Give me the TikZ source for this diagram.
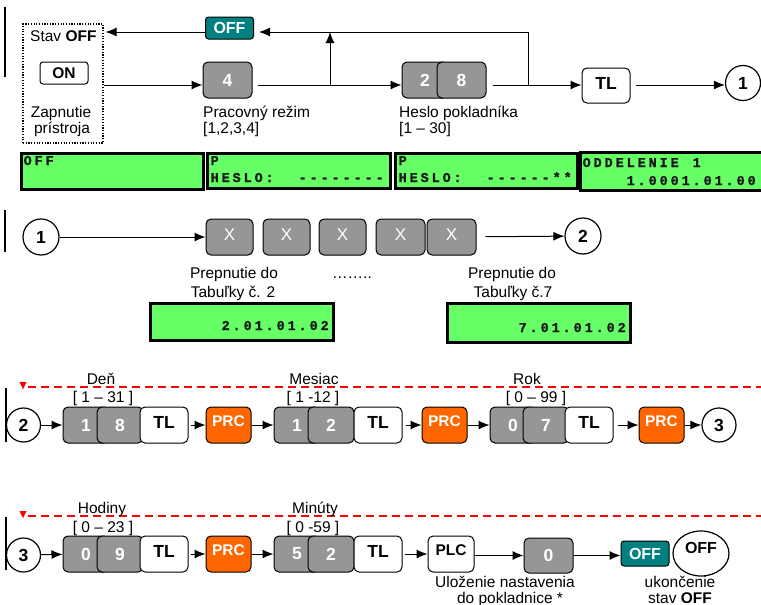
\documentclass[tikz,border=0pt]{standalone}
\usepackage{fontspec}
\setmainfont{Liberation Sans}
\newfontfamily\lcdfamily{Liberation Mono}[BoldFeatures={FakeBold=1.2}]
\usetikzlibrary{arrows.meta,shapes.geometric}
\definecolor{keygray}{HTML}{969696}
\definecolor{offteal}{HTML}{008080}
\definecolor{prcorange}{HTML}{FF6600}
\definecolor{lcdgreen}{HTML}{66FF66}
\definecolor{lcdtext}{HTML}{1A1A1A}
\newcommand\lcdrow[1]{\lcdloop#1\relax}
\def\lcdloop#1{\ifx\relax#1\else\makebox[11pt][c]{#1}\expandafter\lcdloop\fi}
\begin{document}
\begin{tikzpicture}[x=1pt,y=-1pt,
  key/.style={draw=black, line width=1pt, rounded corners=5pt, minimum width=46pt, minimum height=36pt, inner sep=0pt},
  digit/.style={key, fill=keygray, text=white, font=\fontsize{17.5}{17}\selectfont\bfseries},
  wkey/.style={key, fill=white, minimum width=48pt, text depth=5pt, font=\fontsize{17.5}{17}\selectfont\bfseries},
  prc/.style={key, fill=prcorange, minimum width=45pt, text=white, text depth=7pt, font=\fontsize{15.5}{16}\selectfont\bfseries},
  offkey/.style={key, fill=offteal, text=white, rounded corners=3pt, minimum width=48pt, minimum height=24pt, font=\fontsize{16}{16}\selectfont\bfseries},
  num/.style={circle, draw, fill=white, line width=1.2pt, minimum size=35pt, inner sep=0pt, font=\fontsize{17.5}{17}\selectfont\bfseries},
  arr/.style={-{Latex[length=11pt,width=9pt]}, line width=1pt},
  lbl/.style={inner sep=0pt, font=\fontsize{15.5}{16}\selectfont},
  lcd/.style={draw=black, line width=3pt, fill=lcdgreen, inner sep=0pt},
  lcdt/.style={inner sep=0pt, text=lcdtext, font=\lcdfamily\bfseries\fontsize{13.5}{13}\selectfont},
  bar/.style={line width=2pt},
  redline/.style={red, line width=1.1pt, dash pattern=on 8pt off 5pt},
  xkey/.style={digit, minimum width=47pt, text depth=5pt, font=\fontsize{17}{17}\selectfont},
]
\fill[white] (0,0) rectangle (761,605);
\useasboundingbox (0,0) rectangle (761,605);

% ---------- section 1 ----------
\draw[bar] (5,7) -- (5,77);
\node[draw, line width=1.2pt, dash pattern=on 1.2pt off 1.5pt, minimum width=80pt, minimum height=119pt, inner sep=0pt] (onbox) at (63,83.5) {};
\node[lbl, anchor=base west] (stav) at (30,41) {Stav \textbf{OFF}};
\node[key, fill=white, minimum width=48pt, minimum height=22pt, rounded corners=3pt, font=\fontsize{15.5}{16}\selectfont\bfseries] (on) at (64,73) {ON};
\node[lbl, anchor=base] (zap1) at (61,117) {Zapnutie};
\node[lbl, anchor=base] (zap2) at (62,133) {prístroja};

\node[offkey, minimum height=22pt] (offtop) at (229.5,28) {OFF};
\node[digit, minimum width=49pt] (k4) at (227.5,80) {4};
\node[lbl, anchor=base west] (prac1) at (203,117) {Pracovný režim};
\node[lbl, anchor=base west] (prac2) at (203,133) {[1,2,3,4]};
\node[digit, minimum width=46pt] (k2) at (425,80) {2};
\node[digit, minimum width=49pt] (k8) at (461.5,80) {8};
\node[lbl, anchor=base west] (hes1) at (399,117) {Heslo pokladníka};
\node[lbl, anchor=base west] (hes2) at (399,133) {[1 – 30]};
\node[wkey, minimum height=35pt] (tl0) at (606,85.5) {TL};
\node[num] (c1) at (743,83) {1};

\coordinate (j1) at (330,85);
\coordinate (j2) at (528,85);
\coordinate (t1) at (330,32);
\coordinate (t2) at (528,32);
\draw[arr] (onbox.east |- j1) -- (k4.west |- j1);
\draw[arr, shorten <=5pt] (k4.east |- j1) -- (k2.west |- j1);
\draw[arr] (j1) -- (t1);
\draw[arr, shorten <=6pt] (k8.east |- j2) -- (tl0.west |- j2);
\draw[arr, shorten >=5pt] (j2) -- (t2) -- (offtop.east |- t2);
\draw[arr, shorten >=2pt] (offtop.west |- t2) -- (onbox.east |- t2);
\draw[arr, shorten <=5pt] (tl0.east |- j2) -- (c1.west |- j2);

% LCD row
\node[lcd, minimum width=182pt, minimum height=36pt] (lcd1) at (112,171) {};
\node[lcd, minimum width=183pt, minimum height=35pt] (lcd2) at (298.5,170.5) {};
\node[lcd, minimum width=182pt, minimum height=35pt] (lcd3) at (486,170.5) {};
\node[lcd, minimum width=182pt, minimum height=38pt] (lcd4) at (671,171.5) {};
\node[lcdt, anchor=base west] (l1a) at (22,165) {\lcdrow{OFF}};
\node[lcdt, anchor=base west] (l2a) at (209,165) {\lcdrow{P}};
\node[lcdt, anchor=base west] (l2b) at (209,182) {\lcdrow{HESLO:~~--------}};
\node[lcdt, anchor=base west] (l3a) at (397,165) {\lcdrow{P}};
\node[lcdt, anchor=base west] (l3b) at (397,182) {\lcdrow{HESLO:~~------**}};
\node[lcdt, anchor=base west] (l4a) at (581,167) {\lcdrow{ODDELENIE~1}};
\node[lcdt, anchor=base west] (l4b) at (581,185) {\lcdrow{~~~~1.0001.01.00}};

% ---------- section 2 ----------
\draw[bar] (5,210) -- (5,252);
\node[num, minimum size=36pt] (c1b) at (41,237) {1};
\node[xkey] (x1) at (229.5,237) {X};
\node[xkey] (x2) at (286.5,237) {X};
\node[xkey] (x3) at (342.5,237) {X};
\node[xkey, minimum width=49pt] (x4) at (400.5,237) {X};
\node[xkey, minimum width=49pt] (x5) at (451.5,237) {X};
\node[num, minimum size=36pt] (c2b) at (583,236) {2};
\draw[arr] (c1b) -- (x1);
\draw[arr, shorten <=9pt] (x5) -- (c2b);
\node[lbl, anchor=base] (pr1) at (234,278.5) {Prepnutie do};
\node[lbl, anchor=base] (pr2) at (233,297.5) {Tabuľky č. 2};
\node[lbl, anchor=base] (dots) at (352,278) {……..};
\node[lbl, anchor=base] (pr3) at (512,278.5) {Prepnutie do};
\node[lbl, anchor=base] (pr4) at (513,297.5) {Tabuľky č.7};
\node[lcd, minimum width=183pt, minimum height=37pt] (lcd5) at (241.5,321.5) {};
\node[lcd, minimum width=183pt, minimum height=39pt] (lcd6) at (538.5,322.5) {};
\node[lcdt, anchor=base west] (l5) at (154,330) {\lcdrow{~~~~~~2.01.01.02}};
\node[lcdt, anchor=base west] (l6) at (451,332) {\lcdrow{~~~~~~7.01.01.02}};

% ---------- section 3 ----------
\draw[redline] (28,387) -- (761,387);
\fill[red] (19.5,382) -- (26.5,382) -- (23,389) -- cycle;
\draw[bar] (6,388) -- (6,442);
\node[num, minimum size=34pt] (c2c) at (23.5,425) {2};
\node[digit] (d1) at (86,425) {1};
\node[digit] (d8) at (120,425) {8};
\node[wkey] (tla) at (164,425) {TL};
\node[prc] (prca) at (228.5,425) {PRC};
\node[digit] (m1) at (297,425) {1};
\node[digit] (m2) at (331,425) {2};
\node[wkey] (tlb) at (378,425) {TL};
\node[prc] (prcb) at (444.5,425) {PRC};
\node[digit] (y0) at (513,425) {0};
\node[digit] (y7) at (546,425) {7};
\node[wkey] (tlc) at (589,425) {TL};
\node[prc] (prcc) at (661.5,425) {PRC};
\node[num, minimum size=34pt] (c3) at (719,425) {3};
\draw[arr] (c2c) -- (d1);
\draw[arr, shorten <=2pt] (tla) -- (prca);
\draw[arr] (prca) -- (m1);
\draw[arr, shorten <=3pt] (tlb) -- (prcb);
\draw[arr] (prcb) -- (y0);
\draw[arr, shorten <=4pt] (tlc) -- (prcc);
\draw[arr] (prcc) -- (c3);
\node[lbl, anchor=base] (den) at (101,384) {Deň};
\node[lbl, anchor=base] (denr) at (103,402) {[ 1 – 31 ]};
\node[lbl, anchor=base] (mes) at (314,384) {Mesiac};
\node[lbl, anchor=base] (mesr) at (313,402) {[ 1 -12 ]};
\node[lbl, anchor=base] (rok) at (527,384) {Rok};
\node[lbl, anchor=base] (rokr) at (536,402) {[ 0 – 99 ]};

% ---------- section 4 ----------
\draw[redline] (28,516) -- (761,516);
\fill[red] (19.5,511) -- (26.5,511) -- (23,518) -- cycle;
\draw[bar] (6,517) -- (6,570);
\node[num, minimum size=34pt] (c3b) at (23.5,555) {3};
\node[digit] (h0) at (86,554) {0};
\node[digit] (h9) at (120,554) {9};
\node[wkey] (tld) at (164,554) {TL};
\node[prc] (prcd) at (228.5,554) {PRC};
\node[digit] (n5) at (297,554) {5};
\node[digit] (n2) at (331,554) {2};
\node[wkey] (tle) at (378,554) {TL};
\node[wkey, minimum width=46pt, text depth=8pt, font=\fontsize{15.5}{16}\selectfont\bfseries] (plc) at (451,554) {PLC};
\node[digit, minimum width=49pt, minimum height=35pt] (zero) at (548.5,555.5) {0};
\node[offkey, minimum height=25pt] (offb) at (645,553.5) {OFF};
\node[ellipse, draw, line width=1.2pt, minimum width=56pt, minimum height=45pt, inner sep=0pt, text depth=11pt, font=\fontsize{16}{16}\selectfont\bfseries] (ell) at (701,553.5) {OFF};
\draw[arr] (c3b) -- (h0);
\draw[arr, shorten <=2pt] (tld) -- (prcd);
\draw[arr] (prcd) -- (n5);
\draw[arr, shorten <=2pt] (tle) -- (plc);
\draw[arr] (plc.east |- zero) -- (zero.west);
\draw[arr] (zero.east) -- (offb.west |- zero);
\node[lbl, anchor=base] (hod) at (102,513) {Hodiny};
\node[lbl, anchor=base] (hodr) at (103,532) {[ 0 – 23 ]};
\node[lbl, anchor=base] (min) at (315,513) {Minúty};
\node[lbl, anchor=base] (minr) at (313,532) {[ 0 -59 ]};
\node[lbl, anchor=base] (ul1) at (505,587) {Uloženie nastavenia};
\node[lbl, anchor=base] (ul2) at (510,603) {do pokladnice *};
\node[lbl, anchor=base] (uk1) at (680,587) {ukončenie};
\node[lbl, anchor=base] (uk2) at (680,603) {stav \textbf{OFF}};
\end{tikzpicture}
\end{document}
